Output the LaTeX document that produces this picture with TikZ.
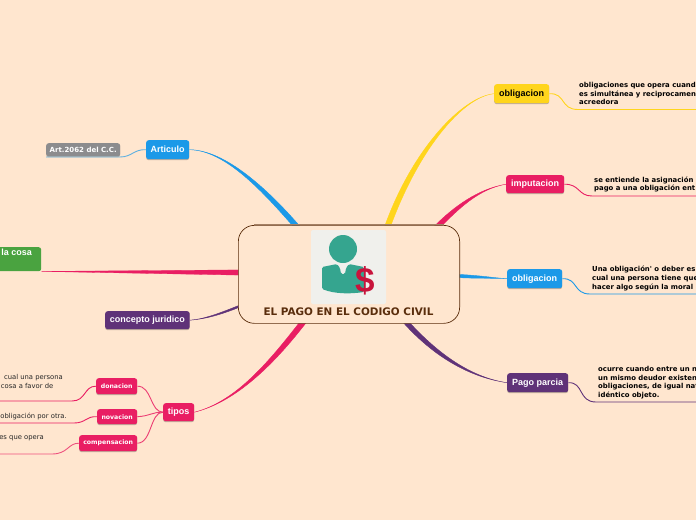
\documentclass[tikz,border=0pt]{standalone}
\usepackage{fontspec}
\setmainfont{Liberation Sans}
\newfontfamily\vfont{DejaVu Sans}
\usetikzlibrary{calc,shadows}
\definecolor{bgc}{HTML}{FFE6CF}
\definecolor{yel}{HTML}{FFD51C}
\definecolor{rd}{HTML}{E91E63}
\definecolor{blu}{HTML}{1B99E8}
\definecolor{pur}{HTML}{5F3278}
\definecolor{grn}{HTML}{4AA340}
\definecolor{gry}{HTML}{8C8C8E}
\definecolor{brn}{HTML}{5A2D0C}
\definecolor{teal1}{HTML}{35A58F}
\definecolor{crim}{HTML}{C8143C}
\definecolor{iconbg}{HTML}{F0F0EC}
\newcommand{\taper}[6]{\path[fill=#1,draw=#1,line width=.4pt] ($(#2)+(#3)$) .. controls ($(#4)+(#3)$) and (#5) .. (#6) .. controls (#5) and ($(#4)-(#3)$) .. ($(#2)-(#3)$) -- cycle;}
\tikzset{
 topic/.style={rounded corners=2.5pt,fill=#1,text=white,font=\bfseries\fontsize{9}{10}\selectfont,inner sep=0pt,anchor=north west,align=center,drop shadow={shadow xshift=0pt,shadow yshift=-1pt,opacity=.25,fill=black}},
 wire/.style={line width=.9pt,draw=#1},
 body/.style={anchor=north west,align=left,inner sep=0pt,font=\vfont\bfseries\fontsize{6.9}{8.7}\selectfont,text=black},
 lbody/.style={anchor=north east,align=right,inner sep=0pt,font=\vfont\fontsize{6.8}{8.4}\selectfont,text=black!85},
 mini/.style={topic=#1,font=\vfont\bfseries\fontsize{6.2}{7}\selectfont},
}
\newcommand{\bx}[6]{\node[#1,minimum width=#4pt,minimum height=#5pt] (#2) at (#3) {#6};}
\begin{document}
\begin{tikzpicture}[x=1pt,y=-1pt]
\fill[bgc] (0,0) rectangle (696,520);
\clip (0,0) rectangle (696,520);
% anchors in the centre box
\coordinate (cY) at (387,228);
\coordinate (cI) at (436,228);
\coordinate (cO) at (458,276);
\coordinate (cP) at (405,321);
\coordinate (cA) at (298,228);
\coordinate (cL) at (240,272.5);
\coordinate (cJ) at (240,306);
\coordinate (cT) at (304,321);
% topics
\bx{topic=yel,text=black}{oy}{494,84}{55}{19}{obligacion}
\bx{topic=rd}{imp}{506,175}{58}{18}{imputacion}
\bx{topic=blu}{ob}{507,269}{55}{19}{obligacion}
\bx{topic=pur}{pp}{507,373}{61}{19}{Pago parcia}
\bx{topic=blu}{art}{146,140}{43}{19}{Articulo}
\bx{mini=gry,font=\vfont\bfseries\fontsize{7}{8}\selectfont}{ac}{46,143}{74}{13}{Art.2062 del C.C.}
\bx{topic=pur}{cj}{105,311}{84.5}{18}{concepto juridico}
\bx{topic=rd}{ti}{163,403}{31}{18}{tipos}
\bx{mini=rd}{don}{96,378}{41}{16}{donacion}
\bx{mini=rd}{nov}{97,409}{40}{15}{novacion}
\bx{mini=rd}{com}{79,435}{58}{16}{compensacion}
\node[rounded corners=2.5pt,fill=grn,minimum width=52pt,minimum height=24pt,inner sep=0pt,anchor=north west] (lc) at (-11,247) {};
\node[anchor=north east,inner sep=0pt,text=white,font=\bfseries\fontsize{9}{10}\selectfont] (lct) at (32,249) {la cosa};
% tapered branches
\taper{yel}{cY}{2.6,1}{415,150}{462,97}{oy.west}
\taper{rd}{cI}{1.9,1.6}{456,208}{478,189}{imp.west}
\taper{blu}{cO}{0,-1.6}{480,277}{495,278}{ob.west}
\taper{pur}{cP}{1.7,-1.6}{440,360}{475,378}{pp.west}
\taper{blu}{cA}{2,-1.6}{265,190}{225,150}{art.east}
\path[fill=rd,draw=rd,line width=.3pt] (lc.south east) -- ($(cL)+(0,-2.6)$) -- ($(cL)+(0,2.6)$) -- cycle;
\taper{pur}{cJ}{.5,-1.2}{220,314}{205,319}{cj.east}
\taper{rd}{cT}{2.2,1.6}{270,365}{235,402}{ti.east}
% central
\node[draw=brn,fill=bgc,rounded corners=16pt,line width=.7pt,minimum width=221.3pt,minimum height=98pt,inner sep=0pt,anchor=north west] (main) at (238,225) {};
\draw[brn!55!bgc,line width=.6pt] (254,224.6) -- (444,224.6);
\fill[iconbg,rounded corners=2pt] (311,230) rectangle (386,304);
\fill[teal1] (343,249) circle (14);
\fill[teal1,rounded corners=1.5pt] (322,267) -- (337,264) -- (340,268) -- (341,274) -- (345,274) -- (346,268) -- (349,264) -- (364,267) -- (364,292) .. controls (350,294) and (335,294) .. (322,289) -- cycle;
\node[inner sep=0pt,text=crim,font=\bfseries\fontsize{35}{35}\selectfont] (dollar) at (365.5,281) {\$};
\node[inner sep=0pt,text=brn,font=\vfont\bfseries\fontsize{10.4}{12}\selectfont] (title) at (348.5,312) {EL PAGO EN EL CODIGO CIVIL};
% secondary text
\node[body] (t1) at (579,82) {obligaciones que opera cuand\\es simultánea y reciprocamen\\acreedora};
\node[body] (t2) at (594,176.5) {se entiende la asignación\\pago a una obligación ent};
\node[body] (t3) at (592,266) {Una obligación' o deber es\\cual una persona tiene que\\hacer algo según la moral};
\node[body] (t4) at (598,366) {ocurre cuando entre un n\\un mismo deudor existen\\obligaciones, de igual nat\\idéntico objeto.};
\node[lbody] (t5) at (63,374.5) {cual una persona\\cosa a favor de\hspace*{9.5pt}};
\node[lbody] (t6) at (67,413) {obligación por otra.};
\node[lbody] (t7) at (44,435.5) {es que opera};
% free ends
\coordinate (e1) at (696,109.5);
\coordinate (e2) at (696,196);
\coordinate (e3) at (696,294);
\coordinate (e4) at (696,402);
\coordinate (e5) at (0,401);
\coordinate (e6) at (0,423);
\coordinate (e7) at (0,454);
\coordinate (e8) at (46,157);
% wires
\draw[wire=yel] (oy.east) .. controls (566,93) and (560,109.5) .. (578,109.5) -- (e1);
\draw[wire=rd] (imp.east) .. controls (580,184) and (578,196) .. (592,196) -- (e2);
\draw[wire=blu] (ob.east) .. controls (578,278) and (573,294) .. (590,294) -- (e3);
\draw[wire=pur] (pp.east) .. controls (584,382) and (578,402) .. (596,402) -- (e4);
\draw[wire=blu!70!bgc] (art.west) .. controls (134,149) and (132,157) .. (120,157) -- (e8);
\draw[wire=rd] (don.west) .. controls (84,386) and (86,401) .. (72,401) -- (e5);
\draw[wire=rd] (nov.west) .. controls (86,416) and (86,423) .. (74,423) -- (e6);
\draw[wire=rd!75!bgc] (com.west) .. controls (68,443) and (68,454) .. (52,454) -- (e7);
\draw[wire=rd!85!bgc] (ti.west) .. controls (150,412) and (152,386) .. (don.east);
\draw[wire=rd!85!bgc] (ti.west) .. controls (152,412) and (150,416) .. (nov.east);
\draw[wire=rd!85!bgc] (ti.west) .. controls (150,412) and (152,443) .. (com.east);
\end{tikzpicture}
\end{document}
